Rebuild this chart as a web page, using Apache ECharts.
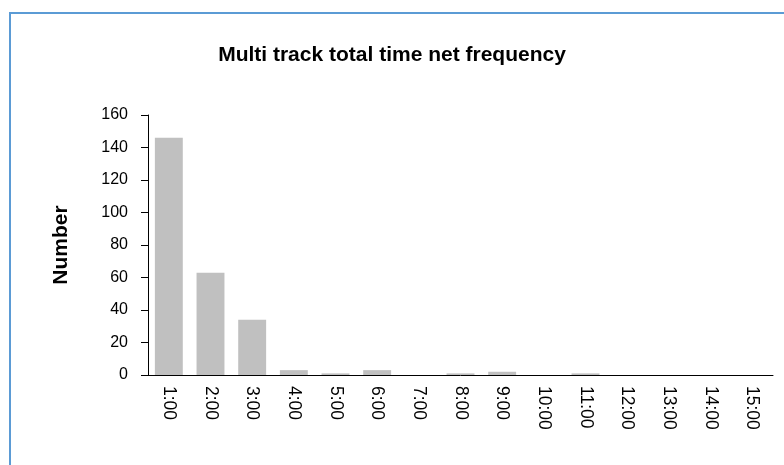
<!DOCTYPE html>
<html>
<head>
<meta charset="utf-8">
<script src="https://cdn.jsdelivr.net/npm/echarts@6/dist/echarts.min.js"></script>
<style>
html,body{margin:0;padding:0;background:#fff;}
#frame{position:absolute;left:9px;top:12px;width:775px;height:453px;border-left:2px solid #5b9bd5;border-top:2px solid #5b9bd5;box-sizing:border-box;}
#chart{position:absolute;left:0;top:0;width:784px;height:465px;}
</style>
</head>
<body>
<div id="frame"></div>
<div id="chart"></div>
<script>
const categories = ['1:00','2:00','3:00','4:00','5:00','6:00','7:00','8:00','9:00','10:00','11:00','12:00','13:00','14:00','15:00'];
const counts = [146, 63, 34, 3, 1, 3, 0, 1, 2, 0, 1, 0, 0, 0, 0];
const yTicks = [0, 20, 40, 60, 80, 100, 120, 140, 160];
const titleText = 'Multi track total time net frequency';
const yName = 'Number';

const chart = echarts.init(document.getElementById('chart'), null, {renderer: 'canvas'});
chart.setOption({
  backgroundColor: 'transparent',
  animation: false,
  title: {
    text: titleText,
    left: 'center',
    top: 40,
    textStyle: {fontFamily: 'Liberation Sans, Arial', fontWeight: 'bold', fontSize: 21, color: '#000'}
  },
  grid: {left: 148, top: 115, right: 11, bottom: 90, containLabel: false},
  xAxis: {
    type: 'category',
    data: categories,
    axisLine: {lineStyle: {color: '#000', width: 1}},
    axisTick: {show: false},
    axisLabel: {rotate: -90, color: '#000', fontFamily: 'Liberation Sans, Arial', fontSize: 17.5, margin: 11, interval: 0}
  },
  yAxis: {
    type: 'value',
    min: yTicks[0],
    max: yTicks[yTicks.length - 1],
    interval: 20,
    name: yName,
    nameLocation: 'middle',
    nameGap: 76,
    nameRotate: 90,
    nameTextStyle: {fontFamily: 'Liberation Sans, Arial', fontWeight: 'bold', fontSize: 21, color: '#000'},
    axisLine: {show: true, lineStyle: {color: '#000', width: 1}},
    axisTick: {show: true, length: 7, lineStyle: {color: '#000'}},
    splitLine: {show: false},
    axisLabel: {color: '#000', fontFamily: 'Liberation Sans, Arial', fontSize: 16, margin: 20}
  },
  series: [{
    type: 'bar',
    data: counts,
    barCategoryGap: '33%',
    itemStyle: {color: '#c0c0c0'}
  }]
});
</script>
</body>
</html>
